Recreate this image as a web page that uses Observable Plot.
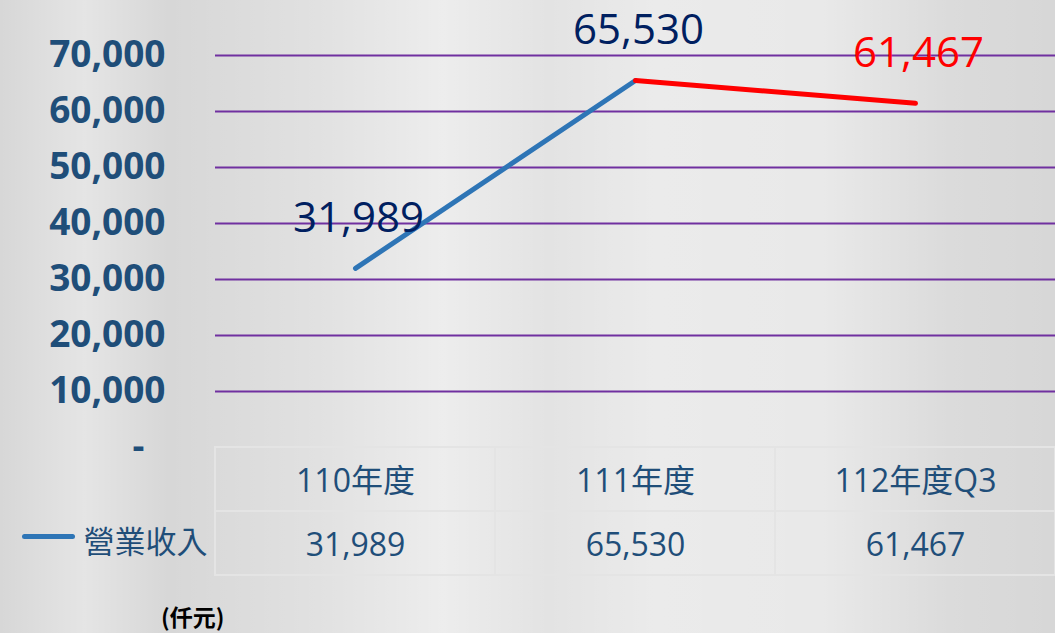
<!DOCTYPE html>
<html>
<head>
<meta charset="utf-8">
<script src="https://cdn.jsdelivr.net/npm/d3@7"></script>
<script src="https://cdn.jsdelivr.net/npm/@observablehq/plot@0.6"></script>
<style>
  html, body { margin: 0; padding: 0; }
  #wrap {
    position: relative; width: 1055px; height: 633px; overflow: hidden;
    background:
      linear-gradient(90deg, rgba(255,255,255,0) 0%, rgba(255,255,255,0.35) 8%, rgba(255,255,255,0) 16%, rgba(255,255,255,0.25) 30%, rgba(255,255,255,0.55) 42%, rgba(255,255,255,0.3) 52%, rgba(255,255,255,0.5) 62%, rgba(255,255,255,0.45) 78%, rgba(255,255,255,0.1) 90%, rgba(255,255,255,0) 100%),
      #d7d7d7;
    font-family: "Open Sans", "Noto Sans CJK TC", sans-serif;
  }
  #main, #table { position: absolute; left: 0; }
  #main { top: 0; }
  #table { top: 446px; }
  #swatch { position: absolute; left: 22px; top: 534px; width: 53px; height: 5px; border-radius: 3px; background: #2E75B6; }
  #unit { position: absolute; left: 161px; top: 605px; font: bold 23px/1 "Noto Sans CJK TC", sans-serif; color: #000; }
</style>
</head>
<body>
<div id="wrap">
  <div id="main"></div>
  <div id="table"></div>
  <div id="swatch"></div>
  <div id="unit">(仟元)</div>
</div>
<script>
const categories = ["110年度", "111年度", "112年度Q3"];
const revenue = [31989, 65530, 61467];
const seriesName = "營業收入";
const yTicks = [0, 10000, 20000, 30000, 40000, 50000, 60000, 70000];
const segmentColors = ["#2E75B6", "#FF0000"];
const labelColors = ["#002060", "#002060", "#FF0000"];

const fmt = d3.format(",");
const points = categories.map((c, i) => ({cat: c, v: revenue[i], label: fmt(revenue[i]), color: labelColors[i]}));
const segs = [];
for (let i = 0; i < categories.length - 1; i++) {
  segs.push({cat: categories[i], v: revenue[i], seg: i, color: segmentColors[i]});
  segs.push({cat: categories[i + 1], v: revenue[i + 1], seg: i, color: segmentColors[i]});
}

const main = Plot.plot({
  width: 1055, height: 460,
  marginLeft: 215, marginRight: 0, marginTop: 55, marginBottom: 13,
  style: {background: "transparent", overflow: "visible"},
  x: {type: "point", domain: categories, padding: 0.5, axis: null},
  y: {domain: [0, 70000], axis: null},
  marks: [
    Plot.ruleY(yTicks.filter(d => d > 0), {stroke: "#7030A0", strokeWidth: 2}),
    Plot.axisY({ticks: yTicks, tickSize: 0, tickPadding: 50, label: null,
      tickFormat: d => d === 0 ? "-\u2007" : fmt(d),
      fontSize: 37, fontWeight: "bold", fill: "#1F4E79",
      fontFamily: "Open Sans, sans-serif"}),
    Plot.line(segs, {x: "cat", y: "v", z: "seg", stroke: "color", strokeWidth: 5, strokeLinecap: "round"}),
    Plot.text(points, {x: "cat", y: "v", text: "label", fill: "color",
      dy: -50, dx: 3, fontSize: 42, fontFamily: "Open Sans, sans-serif"})
  ]
});
document.getElementById("main").appendChild(main);

const rows = ["head", "val"];
const cells = [];
categories.forEach((c, i) => {
  cells.push({cat: c, row: "head", text: c});
  cells.push({cat: c, row: "val", text: fmt(revenue[i])});
});

const table = Plot.plot({
  width: 1055, height: 131,
  marginLeft: 215, marginRight: 0, marginTop: 1, marginBottom: 2,
  style: {background: "transparent", overflow: "visible"},
  x: {type: "band", domain: categories, padding: 0, axis: null},
  y: {type: "band", domain: rows, padding: 0, axis: null},
  marks: [
    Plot.cell(cells, {x: "cat", y: "row", fill: "none", stroke: "#e4e4e4", strokeWidth: 2}),
    Plot.text(cells, {x: "cat", y: "row", text: "text", fill: "#1F4E79", fontSize: 32,
      dy: 2, fontFamily: "Open Sans, Noto Sans CJK TC, sans-serif"}),
    Plot.axisY({ticks: ["val"], tickSize: 0, tickPadding: 8, label: null, tickFormat: () => seriesName,
      fontSize: 31, fill: "#1F4E79", fontFamily: "Noto Sans CJK TC, sans-serif"})
  ]
});
document.getElementById("table").appendChild(table);
</script>
</body>
</html>
